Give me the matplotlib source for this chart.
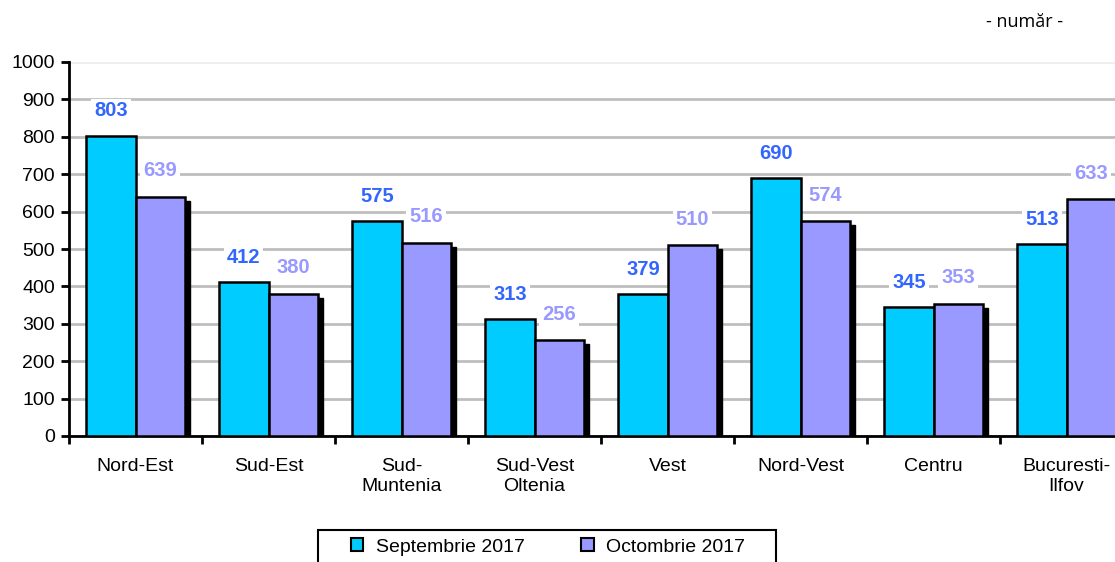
import matplotlib.pyplot as plt
import numpy as np
from matplotlib.patches import Rectangle

plt.rcParams['font.family'] = ['Liberation Sans', 'DejaVu Sans']

regiuni = ["Nord-Est", "Sud-Est", "Sud-\nMuntenia", "Sud-Vest\nOltenia", "Vest",
           "Nord-Vest", "Centru", "Bucuresti-\nIlfov"]
sept_2017 = [803, 412, 575, 313, 379, 690, 345, 513]
oct_2017 = [639, 380, 516, 256, 510, 574, 353, 633]
serii = ["Septembrie 2017", "Octombrie 2017"]

c_sept = '#00CCFF'
c_oct = '#9999FF'
c_lbl_sept = '#3366FF'
c_lbl_oct = '#9999FF'

fig = plt.figure(figsize=(11.15, 5.62), dpi=100)
# axa iese putin in dreapta, ca in original
ax = fig.add_axes([69 / 1115, 1 - 436 / 562, 1064 / 1115, 374 / 562])

x = np.arange(len(regiuni))
w = 0.37

# umbre negre in dreapta barelor mov
dx, dy = 0.04, 11
for i in range(len(regiuni)):
    ax.add_patch(Rectangle((x[i] + 2 * w, 0), dx, oct_2017[i] - dy, color='black', zorder=2))

ax.bar(x, sept_2017, w, align='edge', color=c_sept, edgecolor='black', linewidth=1.8, zorder=3,
       label=serii[0])
ax.bar(x + w, oct_2017, w, align='edge', color=c_oct, edgecolor='black', linewidth=1.8, zorder=3,
       label=serii[1])

ax.set_xlim(-0.5 + w, len(regiuni) - 0.5 + w)
ax.set_ylim(0, 1000)

for i in range(len(regiuni)):
    ax.text(x[i] + w / 2, sept_2017[i] + 66, str(sept_2017[i]), ha='center', va='center',
            color=c_lbl_sept, fontsize=14.5, weight='bold', zorder=4,
            bbox=dict(facecolor='white', edgecolor='none', pad=2))
    ax.text(x[i] + 1.5 * w, oct_2017[i] + 70, str(oct_2017[i]), ha='center', va='center',
            color=c_lbl_oct, fontsize=14.5, weight='bold', zorder=4,
            bbox=dict(facecolor='white', edgecolor='none', pad=2))

ax.set_yticks(np.arange(0, 1001, 100))
ax.yaxis.grid(True, color='#BEBEBE', linewidth=2, zorder=0)
ax.get_ygridlines()[-1].set_color('#EEEEEE')
ax.set_axisbelow(True)

ax.set_xticks(np.arange(len(regiuni) + 1) - 0.5 + w)
ax.set_xticklabels([])
ax.set_xticks(x + w, minor=True)
ax.set_xticklabels(regiuni, minor=True, fontsize=14)
ax.tick_params(axis='x', which='minor', length=0, pad=16)
ax.tick_params(axis='x', which='major', length=6, width=2, direction='out')
ax.tick_params(axis='y', length=6, width=2, direction='out', labelsize=14, pad=4)

for s in ['top', 'right']:
    ax.spines[s].set_visible(False)
ax.spines['left'].set_linewidth(2)
ax.spines['bottom'].set_linewidth(2)

# legenda fara rama, rama desenata separat
leg = fig.legend(loc='center', bbox_to_anchor=(548 / 1115, 1 - 547 / 562), ncol=2, fontsize=14,
                 frameon=False, handlelength=0.65, handleheight=0.65, handletextpad=0.65,
                 columnspacing=2.9, borderpad=0, borderaxespad=0)
for h in leg.legend_handles:
    h.set_linewidth(1.5)
fig.patches.append(Rectangle((318 / 1115, -0.05), 458 / 1115, 0.05 + 32 / 562, transform=fig.transFigure,
                             facecolor='none', edgecolor='black', linewidth=1.5))

fig.text(1025 / 1115, 1 - 22 / 562, "- număr -", ha='center', va='center', fontsize=13,
         family=['Open Sans', 'DejaVu Sans'])

fig.savefig('out.png', dpi=100)
